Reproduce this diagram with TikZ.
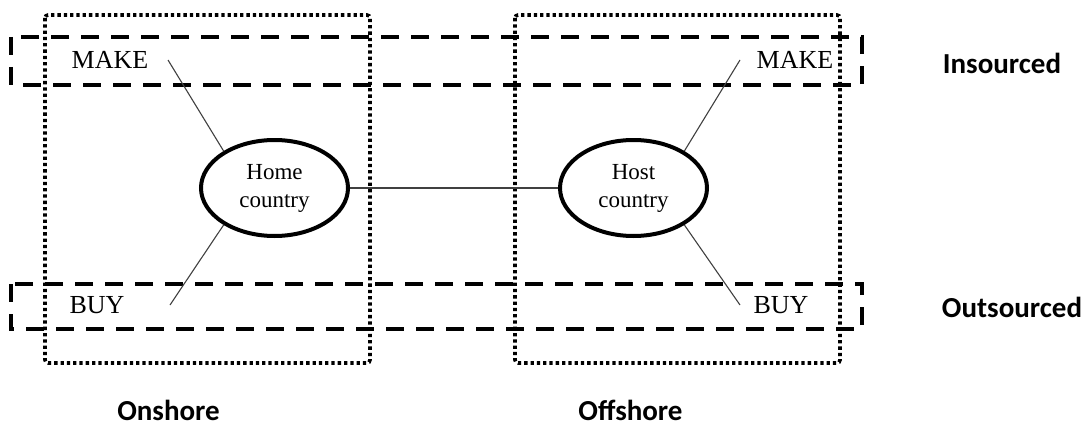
\documentclass[tikz,border=0pt]{standalone}
\usepackage{fontspec}
\setmainfont{Liberation Serif}
\newfontfamily\calfont{Carlito}
\usetikzlibrary{shapes.geometric}
\begin{document}
\begin{tikzpicture}[x=1pt,y=-1pt,
  dottedbox/.style={line width=3.6pt,dash pattern=on 3.3pt off 3pt,rounded corners=3pt},
  dashedbox/.style={line width=3.8pt,dash pattern=on 18pt off 12pt},
  country/.style={draw,ellipse,line width=4pt,minimum width=147pt,minimum height=96pt,inner sep=0pt,
    align=center,font=\fontsize{23}{28}\selectfont},
  item/.style={anchor=base,font=\fontsize{26}{30}\selectfont,inner sep=0pt},
  side/.style={anchor=base,font=\calfont\bfseries\fontsize{29}{34}\selectfont,inner sep=0pt},
  link/.style={line width=1.1pt,draw=black!75}]
\useasboundingbox (0,0) rectangle (1090,428);
% dotted boxes
\draw[dottedbox] (45,15) rectangle (370,363);
\draw[dottedbox] (515,15) rectangle (840,363);
% dashed boxes
\draw[dashedbox] (11,37) rectangle (862,85);
\draw[dashedbox] (11,284) rectangle (862,329);
% countries
\node[country] (home) at (274.5,188) {Home\\country};
\node[country] (host) at (633.5,188) {Host\\country};
% texts
\node[item] (make1) at (110,69) {MAKE};
\node[item] (make2) at (795,69) {MAKE};
\node[item] (buy1) at (97,313) {BUY};
\node[item] (buy2) at (781,313) {BUY};
\node[side] (ins) at (1002,74) {Insourced};
\node[side] (outs) at (1012,317) {Outsourced};
\node[side] (on) at (168.5,420) {Onshore};
\node[side] (off) at (630.5,420) {Offshore};
% connector ends
\coordinate (m1) at (168,60);
\coordinate (m2) at (740,60);
\coordinate (b1) at (170,305);
\coordinate (b2) at (740,305);
\draw[link] (m1) -- (home.144);
\draw[link] (b1) -- (home.216);
\draw[link] (m2) -- (host.36);
\draw[link] (b2) -- (host.-36);
\draw[link] (home) -- (host);
\end{tikzpicture}
\end{document}
